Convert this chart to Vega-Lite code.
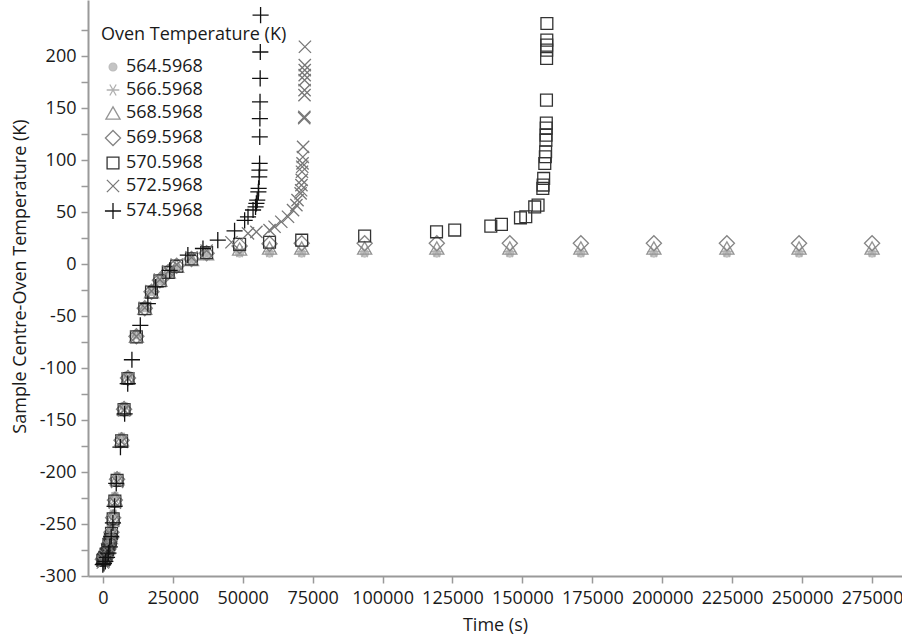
{
  "$schema": "https://vega.github.io/schema/vega-lite/v6.json",
  "width": 814,
  "height": 576,
  "autosize": "none",
  "padding": {"left": 88, "top": 0, "right": 0, "bottom": 59},
  "background": "white",
  "config": {
    "view": {"stroke": null},
    "font": "Open Sans",
    "axis": {
      "grid": false,
      "domainColor": "#9a9a9a",
      "domainWidth": 2,
      "tickColor": "#9a9a9a",
      "tickWidth": 1.5,
      "tickSize": 7,
      "labelFont": "Open Sans",
      "labelFontSize": 18,
      "labelColor": "#1a1a1a",
      "titleFont": "Open Sans",
      "titleFontSize": 18,
      "titleFontWeight": "normal",
      "titleColor": "#1a1a1a"
    },
    "legend": {
      "titleFont": "Open Sans",
      "labelFont": "Open Sans"
    }
  },
  "data": {
    "values": [
      {"t":0,"dT":-279,"oven":"564.5968"},{"t":300,"dT":-278,"oven":"564.5968"},{"t":700,"dT":-276,"oven":"564.5968"},{"t":1200,"dT":-273,"oven":"564.5968"},{"t":1700,"dT":-269,"oven":"564.5968"},{"t":2200,"dT":-264,"oven":"564.5968"},{"t":2700,"dT":-259,"oven":"564.5968"},{"t":3100,"dT":-254,"oven":"564.5968"},{"t":3700,"dT":-240,"oven":"564.5968"},{"t":4300,"dT":-223,"oven":"564.5968"},{"t":5100,"dT":-204,"oven":"564.5968"},{"t":6700,"dT":-166,"oven":"564.5968"},{"t":7600,"dT":-137,"oven":"564.5968"},{"t":9000,"dT":-108,"oven":"564.5968"},{"t":12000,"dT":-68,"oven":"564.5968"},{"t":15000,"dT":-42,"oven":"564.5968"},{"t":17400,"dT":-26.5,"oven":"564.5968"},{"t":20400,"dT":-16,"oven":"564.5968"},{"t":23400,"dT":-8.5,"oven":"564.5968"},{"t":26400,"dT":-3,"oven":"564.5968"},{"t":31700,"dT":3,"oven":"564.5968"},{"t":37100,"dT":8,"oven":"564.5968"},{"t":48900,"dT":10.5,"oven":"564.5968"},{"t":59600,"dT":10.5,"oven":"564.5968"},{"t":71100,"dT":10.5,"oven":"564.5968"},{"t":93600,"dT":10.5,"oven":"564.5968"},{"t":119400,"dT":10.5,"oven":"564.5968"},{"t":145500,"dT":10.5,"oven":"564.5968"},{"t":170900,"dT":10.5,"oven":"564.5968"},{"t":197000,"dT":10.5,"oven":"564.5968"},{"t":223100,"dT":10.5,"oven":"564.5968"},{"t":248900,"dT":10.5,"oven":"564.5968"},{"t":275000,"dT":10.5,"oven":"564.5968"},

      {"t":0,"dT":-281,"oven":"566.5968"},{"t":300,"dT":-280,"oven":"566.5968"},{"t":700,"dT":-278,"oven":"566.5968"},{"t":1200,"dT":-275,"oven":"566.5968"},{"t":1700,"dT":-271,"oven":"566.5968"},{"t":2200,"dT":-266,"oven":"566.5968"},{"t":2700,"dT":-261,"oven":"566.5968"},{"t":3100,"dT":-255.5,"oven":"566.5968"},{"t":3700,"dT":-241.5,"oven":"566.5968"},{"t":4300,"dT":-224.5,"oven":"566.5968"},{"t":5100,"dT":-205,"oven":"566.5968"},{"t":6700,"dT":-167.5,"oven":"566.5968"},{"t":7600,"dT":-138,"oven":"566.5968"},{"t":9000,"dT":-108.5,"oven":"566.5968"},{"t":12000,"dT":-69,"oven":"566.5968"},{"t":15000,"dT":-42.5,"oven":"566.5968"},{"t":17400,"dT":-26.5,"oven":"566.5968"},{"t":20400,"dT":-16,"oven":"566.5968"},{"t":23400,"dT":-8,"oven":"566.5968"},{"t":26400,"dT":-2.5,"oven":"566.5968"},{"t":31700,"dT":3.5,"oven":"566.5968"},{"t":37100,"dT":9,"oven":"566.5968"},{"t":48900,"dT":12,"oven":"566.5968"},{"t":59600,"dT":12,"oven":"566.5968"},{"t":71100,"dT":12,"oven":"566.5968"},{"t":93600,"dT":12,"oven":"566.5968"},{"t":119400,"dT":12,"oven":"566.5968"},{"t":145500,"dT":12,"oven":"566.5968"},{"t":170900,"dT":12,"oven":"566.5968"},{"t":197000,"dT":12,"oven":"566.5968"},{"t":223100,"dT":12,"oven":"566.5968"},{"t":248900,"dT":12,"oven":"566.5968"},{"t":275000,"dT":12,"oven":"566.5968"},

      {"t":0,"dT":-283,"oven":"568.5968"},{"t":300,"dT":-282,"oven":"568.5968"},{"t":700,"dT":-280,"oven":"568.5968"},{"t":1200,"dT":-277,"oven":"568.5968"},{"t":1700,"dT":-273,"oven":"568.5968"},{"t":2200,"dT":-268,"oven":"568.5968"},{"t":2700,"dT":-263,"oven":"568.5968"},{"t":3100,"dT":-257,"oven":"568.5968"},{"t":3700,"dT":-243,"oven":"568.5968"},{"t":4300,"dT":-226,"oven":"568.5968"},{"t":5100,"dT":-206.5,"oven":"568.5968"},{"t":6700,"dT":-169,"oven":"568.5968"},{"t":7600,"dT":-139,"oven":"568.5968"},{"t":9000,"dT":-109,"oven":"568.5968"},{"t":12000,"dT":-69.5,"oven":"568.5968"},{"t":15000,"dT":-42.5,"oven":"568.5968"},{"t":17400,"dT":-26.5,"oven":"568.5968"},{"t":20400,"dT":-15.5,"oven":"568.5968"},{"t":23400,"dT":-7.5,"oven":"568.5968"},{"t":26400,"dT":-2,"oven":"568.5968"},{"t":31700,"dT":4.5,"oven":"568.5968"},{"t":37100,"dT":10,"oven":"568.5968"},{"t":48900,"dT":14.5,"oven":"568.5968"},{"t":59600,"dT":15.5,"oven":"568.5968"},{"t":71100,"dT":15.5,"oven":"568.5968"},{"t":93600,"dT":15.5,"oven":"568.5968"},{"t":119400,"dT":15.5,"oven":"568.5968"},{"t":145500,"dT":15.5,"oven":"568.5968"},{"t":170900,"dT":15.5,"oven":"568.5968"},{"t":197000,"dT":15.5,"oven":"568.5968"},{"t":223100,"dT":15.5,"oven":"568.5968"},{"t":248900,"dT":15.5,"oven":"568.5968"},{"t":275000,"dT":15.5,"oven":"568.5968"},

      {"t":0,"dT":-284,"oven":"569.5968"},{"t":300,"dT":-283,"oven":"569.5968"},{"t":700,"dT":-281,"oven":"569.5968"},{"t":1200,"dT":-278,"oven":"569.5968"},{"t":1700,"dT":-274,"oven":"569.5968"},{"t":2200,"dT":-269,"oven":"569.5968"},{"t":2700,"dT":-264,"oven":"569.5968"},{"t":3100,"dT":-258,"oven":"569.5968"},{"t":3700,"dT":-244,"oven":"569.5968"},{"t":4300,"dT":-227,"oven":"569.5968"},{"t":5100,"dT":-207,"oven":"569.5968"},{"t":6700,"dT":-169.5,"oven":"569.5968"},{"t":7600,"dT":-139.5,"oven":"569.5968"},{"t":9000,"dT":-109.5,"oven":"569.5968"},{"t":12000,"dT":-69.5,"oven":"569.5968"},{"t":15000,"dT":-42.5,"oven":"569.5968"},{"t":17400,"dT":-26.5,"oven":"569.5968"},{"t":20400,"dT":-15.5,"oven":"569.5968"},{"t":23400,"dT":-7.5,"oven":"569.5968"},{"t":26400,"dT":-1.5,"oven":"569.5968"},{"t":31700,"dT":5,"oven":"569.5968"},{"t":37100,"dT":10.5,"oven":"569.5968"},{"t":48900,"dT":17.5,"oven":"569.5968"},{"t":59600,"dT":19.5,"oven":"569.5968"},{"t":71100,"dT":20,"oven":"569.5968"},{"t":93600,"dT":20,"oven":"569.5968"},{"t":119400,"dT":20,"oven":"569.5968"},{"t":145500,"dT":20,"oven":"569.5968"},{"t":170900,"dT":20,"oven":"569.5968"},{"t":197000,"dT":20,"oven":"569.5968"},{"t":223100,"dT":20,"oven":"569.5968"},{"t":248900,"dT":20,"oven":"569.5968"},{"t":275000,"dT":20,"oven":"569.5968"},

      {"t":0,"dT":-285,"oven":"570.5968"},{"t":300,"dT":-284,"oven":"570.5968"},{"t":700,"dT":-282,"oven":"570.5968"},{"t":1200,"dT":-279,"oven":"570.5968"},{"t":1700,"dT":-275,"oven":"570.5968"},{"t":2200,"dT":-270,"oven":"570.5968"},{"t":2700,"dT":-265,"oven":"570.5968"},{"t":3100,"dT":-259,"oven":"570.5968"},{"t":3700,"dT":-245,"oven":"570.5968"},{"t":4300,"dT":-228,"oven":"570.5968"},{"t":5100,"dT":-208,"oven":"570.5968"},{"t":6700,"dT":-170,"oven":"570.5968"},{"t":7600,"dT":-140,"oven":"570.5968"},{"t":9000,"dT":-110,"oven":"570.5968"},{"t":12000,"dT":-70,"oven":"570.5968"},{"t":15000,"dT":-43,"oven":"570.5968"},{"t":17400,"dT":-27,"oven":"570.5968"},{"t":20400,"dT":-16,"oven":"570.5968"},{"t":23400,"dT":-8,"oven":"570.5968"},{"t":26400,"dT":-2,"oven":"570.5968"},{"t":31700,"dT":5,"oven":"570.5968"},{"t":37100,"dT":11,"oven":"570.5968"},{"t":48900,"dT":19,"oven":"570.5968"},{"t":59600,"dT":21,"oven":"570.5968"},{"t":71100,"dT":23,"oven":"570.5968"},{"t":93600,"dT":27,"oven":"570.5968"},{"t":119300,"dT":31,"oven":"570.5968"},{"t":125800,"dT":32.7,"oven":"570.5968"},{"t":138700,"dT":36.5,"oven":"570.5968"},{"t":142500,"dT":38.2,"oven":"570.5968"},{"t":149300,"dT":44.5,"oven":"570.5968"},{"t":151200,"dT":45.5,"oven":"570.5968"},{"t":154400,"dT":55,"oven":"570.5968"},{"t":155600,"dT":56.7,"oven":"570.5968"},{"t":157300,"dT":72.8,"oven":"570.5968"},{"t":157400,"dT":76,"oven":"570.5968"},{"t":157600,"dT":82.4,"oven":"570.5968"},{"t":158000,"dT":96.8,"oven":"570.5968"},{"t":158200,"dT":103.2,"oven":"570.5968"},{"t":158300,"dT":108,"oven":"570.5968"},{"t":158400,"dT":119.2,"oven":"570.5968"},{"t":158450,"dT":124,"oven":"570.5968"},{"t":158500,"dT":130.8,"oven":"570.5968"},{"t":158550,"dT":135.6,"oven":"570.5968"},{"t":158600,"dT":157.7,"oven":"570.5968"},{"t":158650,"dT":197.8,"oven":"570.5968"},{"t":158680,"dT":205.8,"oven":"570.5968"},{"t":158700,"dT":210.6,"oven":"570.5968"},{"t":158720,"dT":215.4,"oven":"570.5968"},{"t":158750,"dT":231.4,"oven":"570.5968"},

      {"t":0,"dT":-287,"oven":"572.5968"},{"t":300,"dT":-286,"oven":"572.5968"},{"t":700,"dT":-284,"oven":"572.5968"},{"t":1200,"dT":-281,"oven":"572.5968"},{"t":1700,"dT":-277,"oven":"572.5968"},{"t":2200,"dT":-272,"oven":"572.5968"},{"t":2700,"dT":-267,"oven":"572.5968"},{"t":3100,"dT":-261,"oven":"572.5968"},{"t":3700,"dT":-247,"oven":"572.5968"},{"t":4300,"dT":-229.5,"oven":"572.5968"},{"t":5100,"dT":-209.5,"oven":"572.5968"},{"t":6700,"dT":-171,"oven":"572.5968"},{"t":7600,"dT":-140.5,"oven":"572.5968"},{"t":9000,"dT":-110,"oven":"572.5968"},{"t":12000,"dT":-69.5,"oven":"572.5968"},{"t":15000,"dT":-42,"oven":"572.5968"},{"t":17400,"dT":-26,"oven":"572.5968"},{"t":20400,"dT":-15,"oven":"572.5968"},{"t":23400,"dT":-7,"oven":"572.5968"},{"t":26400,"dT":-0.5,"oven":"572.5968"},{"t":31700,"dT":6.5,"oven":"572.5968"},{"t":37100,"dT":13,"oven":"572.5968"},{"t":46000,"dT":21,"oven":"572.5968"},{"t":51900,"dT":29.5,"oven":"572.5968"},{"t":54900,"dT":31,"oven":"572.5968"},{"t":59600,"dT":32.7,"oven":"572.5968"},{"t":61400,"dT":35.9,"oven":"572.5968"},{"t":63800,"dT":40.7,"oven":"572.5968"},{"t":66200,"dT":45.5,"oven":"572.5968"},{"t":68000,"dT":51.9,"oven":"572.5968"},{"t":69200,"dT":56.7,"oven":"572.5968"},{"t":69600,"dT":61.5,"oven":"572.5968"},{"t":70700,"dT":68,"oven":"572.5968"},{"t":70900,"dT":71,"oven":"572.5968"},{"t":71000,"dT":76,"oven":"572.5968"},{"t":71100,"dT":81,"oven":"572.5968"},{"t":71200,"dT":88.8,"oven":"572.5968"},{"t":71300,"dT":93.6,"oven":"572.5968"},{"t":71400,"dT":96.8,"oven":"572.5968"},{"t":71500,"dT":103,"oven":"572.5968"},{"t":71600,"dT":112.8,"oven":"572.5968"},{"t":72000,"dT":140.4,"oven":"572.5968"},{"t":72050,"dT":141.6,"oven":"572.5968"},{"t":72100,"dT":162.5,"oven":"572.5968"},{"t":72120,"dT":167.3,"oven":"572.5968"},{"t":72140,"dT":177,"oven":"572.5968"},{"t":72160,"dT":181.7,"oven":"572.5968"},{"t":72180,"dT":186.5,"oven":"572.5968"},{"t":72200,"dT":191.3,"oven":"572.5968"},{"t":72250,"dT":209,"oven":"572.5968"},

      {"t":0,"dT":-289,"oven":"574.5968"},{"t":400,"dT":-288,"oven":"574.5968"},{"t":900,"dT":-286,"oven":"574.5968"},{"t":1500,"dT":-282,"oven":"574.5968"},{"t":2000,"dT":-278,"oven":"574.5968"},{"t":2500,"dT":-272,"oven":"574.5968"},{"t":3000,"dT":-262,"oven":"574.5968"},{"t":3600,"dT":-249,"oven":"574.5968"},{"t":4200,"dT":-233,"oven":"574.5968"},{"t":4800,"dT":-211,"oven":"574.5968"},{"t":6300,"dT":-176,"oven":"574.5968"},{"t":7800,"dT":-144,"oven":"574.5968"},{"t":8900,"dT":-115,"oven":"574.5968"},{"t":10400,"dT":-92,"oven":"574.5968"},{"t":13400,"dT":-59,"oven":"574.5968"},{"t":16100,"dT":-38,"oven":"574.5968"},{"t":18900,"dT":-22,"oven":"574.5968"},{"t":23900,"dT":-6,"oven":"574.5968"},{"t":30400,"dT":8.7,"oven":"574.5968"},{"t":35800,"dT":15,"oven":"574.5968"},{"t":41100,"dT":23,"oven":"574.5968"},{"t":47100,"dT":32,"oven":"574.5968"},{"t":50700,"dT":42,"oven":"574.5968"},{"t":51900,"dT":45.5,"oven":"574.5968"},{"t":53700,"dT":52,"oven":"574.5968"},{"t":54600,"dT":55,"oven":"574.5968"},{"t":54900,"dT":58.4,"oven":"574.5968"},{"t":55200,"dT":61.5,"oven":"574.5968"},{"t":55600,"dT":69.5,"oven":"574.5968"},{"t":55700,"dT":72.8,"oven":"574.5968"},{"t":55900,"dT":83.9,"oven":"574.5968"},{"t":56000,"dT":90.4,"oven":"574.5968"},{"t":56050,"dT":96.8,"oven":"574.5968"},{"t":56100,"dT":122.4,"oven":"574.5968"},{"t":56150,"dT":140,"oven":"574.5968"},{"t":56200,"dT":156,"oven":"574.5968"},{"t":56250,"dT":178.6,"oven":"574.5968"},{"t":56300,"dT":204,"oven":"574.5968"},{"t":56400,"dT":239.4,"oven":"574.5968"}
    ]
  },
  "mark": {"type": "point", "filled": false, "opacity": 1, "strokeWidth": 1.3, "clip": true},
  "encoding": {
    "x": {
      "field": "t", "type": "quantitative",
      "scale": {"domain": [-5300, 285700], "nice": false, "zero": false},
      "axis": {
        "title": "Time (s)",
        "values": [0,25000,50000,75000,100000,125000,150000,175000,200000,225000,250000,275000],
        "format": "d",
        "labelFlush": false,
        "labelOverlap": false,
        "labelPadding": 6,
        "titlePadding": 9
      }
    },
    "y": {
      "field": "dT", "type": "quantitative",
      "scale": {"domain": [-300, 254], "nice": false, "zero": false},
      "axis": {
        "title": "Sample Centre-Oven Temperature (K)",
        "values": [-300,-275,-250,-225,-200,-175,-150,-125,-100,-75,-50,-25,0,25,50,75,100,125,150,175,200,225],
        "labelExpr": "datum.value % 50 == 0 ? '' + datum.value : ''",
        "labelFlush": false,
        "labelOverlap": false,
        "labelPadding": 5,
        "titleX": -63,
        "titleY": 276,
        "titleAngle": -90,
        "titleAlign": "center",
        "titleBaseline": "alphabetic"
      }
    },
    "stroke": {
      "field": "oven", "type": "nominal",
      "scale": {
        "domain": ["564.5968","566.5968","568.5968","569.5968","570.5968","572.5968","574.5968"],
        "range": ["#bdbdbd","#b0b0b0","#949494","#858585","#333333","#777777","#111111"]
      },
      "legend": {
        "title": "Oven Temperature (K)",
        "orient": "none",
        "legendX": 13,
        "legendY": 26,
        "titleLimit": 400,
        "titleFontSize": 18,
        "titleFontWeight": "normal",
        "titleColor": "#1a1a1a",
        "labelFontSize": 18,
        "labelColor": "#1a1a1a",
        "rowPadding": 5,
        "titlePadding": 14,
        "labelOffset": 4,
        "symbolOffset": 3,
        "symbolStrokeWidth": 1.3
      }
    },
    "fill": {
      "field": "oven", "type": "nominal",
      "scale": {
        "domain": ["564.5968","566.5968","568.5968","569.5968","570.5968","572.5968","574.5968"],
        "range": ["#c4c4c4","transparent","transparent","transparent","transparent","transparent","transparent"]
      },
      "legend": {"title": "Oven Temperature (K)"}
    },
    "shape": {
      "field": "oven", "type": "nominal",
      "scale": {
        "domain": ["564.5968","566.5968","568.5968","569.5968","570.5968","572.5968","574.5968"],
        "range": ["circle","M-1,0L1,0M-0.5,-0.866L0.5,0.866M-0.5,0.866L0.5,-0.866","triangle-up","diamond","square","M-1,-1L1,1M-1,1L1,-1","M-1,0L1,0M0,-1L0,1"]
      },
      "legend": {"title": "Oven Temperature (K)"}
    },
    "size": {
      "field": "oven", "type": "nominal",
      "scale": {
        "type": "ordinal",
        "domain": ["564.5968","566.5968","568.5968","569.5968","570.5968","572.5968","574.5968"],
        "range": [60,160,200,230,140,150,260]
      },
      "legend": {"title": "Oven Temperature (K)"}
    }
  }
}
